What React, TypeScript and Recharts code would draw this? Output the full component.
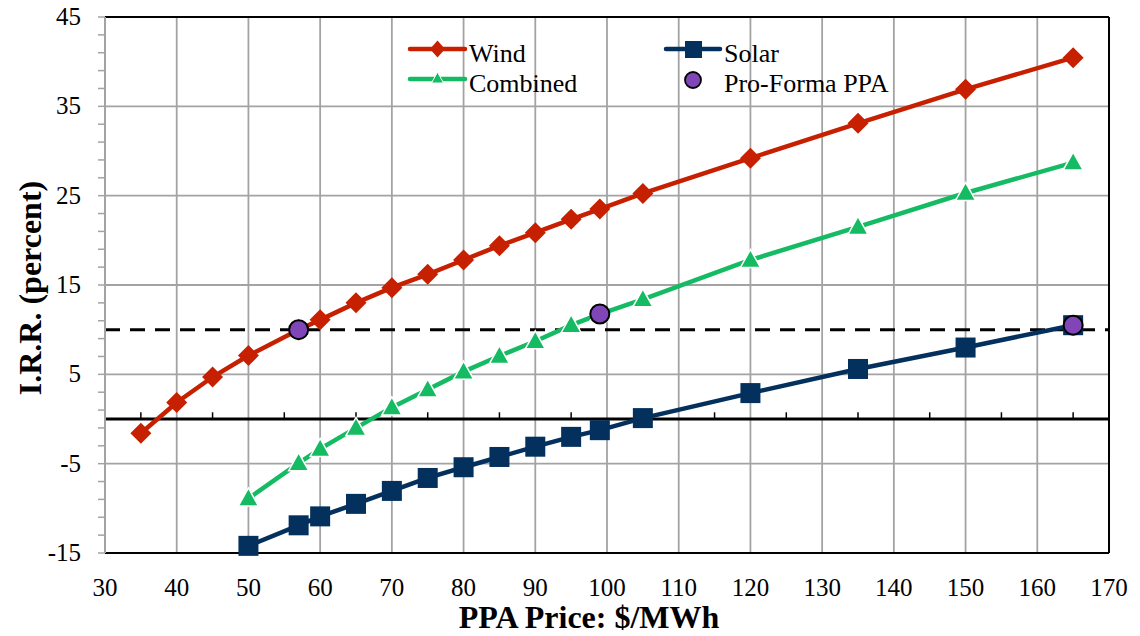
import React from "react";
import {
  ComposedChart,
  Line,
  XAxis,
  YAxis,
  CartesianGrid,
  ReferenceLine,
  Legend,
  Label,
} from "recharts";

const prices = [35, 40, 45, 50, 57, 60, 65, 70, 75, 80, 85, 90, 95, 99, 105, 120, 135, 150, 165];
const wind = [-1.6, 1.85, 4.7, 7.1, 10.0, 11.1, 13.0, 14.7, 16.2, 17.8, 19.4, 20.85, 22.35, 23.5, 25.25, 29.2, 33.1, 36.9, 40.45];
const combined = [null, null, null, -8.9, -4.95, -3.35, -1.0, 1.3, 3.3, 5.3, 7.05, 8.7, 10.5, 11.75, 13.4, 17.8, 21.5, 25.3, 28.7];
const solar = [null, null, null, -14.2, -11.9, -10.9, -9.5, -8.05, -6.6, -5.4, -4.25, -3.1, -2.0, -1.25, 0.1, 2.9, 5.6, 8.0, 10.5];

const proFormaPrices = [57, 99, 165];
const proFormaIrr = [10.0, 11.75, 10.5];

const xTicks = [30, 40, 50, 60, 70, 80, 90, 100, 110, 120, 130, 140, 150, 160, 170];
const xMinorTicks = [35, 45, 55, 65, 75, 85, 95, 105, 115, 125, 135, 145, 155, 165];
const yMajorTicks = [-15, -5, 5, 15, 25, 35, 45];
const yTicks = [-15, -13, -11, -9, -7, -5, -3, -1, 1, 3, 5, 7, 9, 11, 13, 15, 17, 19, 21, 23, 25, 27, 29, 31, 33, 35, 37, 39, 41, 43, 45];
const hurdleRate = 10;

const WIND = "#C72000";
const COMBINED = "#14BB63";
const SOLAR = "#03305C";
const PURPLE = "#8046B8";
const GRID = "#A3A3A3";
const FONT = "'Liberation Serif', 'Times New Roman', serif";

const rows = prices.map((price, i) => ({
  price,
  wind: wind[i],
  combined: combined[i],
  solar: solar[i],
}));

const proForma = proFormaPrices.map((price, i) => ({ price, irr: proFormaIrr[i] }));

const diamondDot = (props: any) => {
  const { cx, cy, index } = props;
  if (cx == null || cy == null) return <g key={`w-${index}`} />;
  const r = 10.5;
  return (
    <polygon
      key={`w-${index}`}
      points={`${cx},${cy - r} ${cx + r},${cy} ${cx},${cy + r} ${cx - r},${cy}`}
      fill={WIND}
    />
  );
};

const triangleDot = (props: any) => {
  const { cx, cy, index } = props;
  if (cx == null || cy == null) return <g key={`c-${index}`} />;
  return (
    <polygon
      key={`c-${index}`}
      points={`${cx},${cy - 10.5} ${cx + 10},${cy + 7.5} ${cx - 10},${cy + 7.5}`}
      fill={COMBINED}
      stroke="#fff"
      strokeWidth={1.5}
    />
  );
};

const squareDot = (props: any) => {
  const { cx, cy, index } = props;
  if (cx == null || cy == null) return <g key={`s-${index}`} />;
  return <rect key={`s-${index}`} x={cx - 10} y={cy - 10} width={20} height={20} fill={SOLAR} />;
};

const circleDot = (props: any) => {
  const { cx, cy, index } = props;
  if (cx == null || cy == null) return <g key={`p-${index}`} />;
  return <circle key={`p-${index}`} cx={cx} cy={cy} r={9.5} fill={PURPLE} stroke="#000" strokeWidth={2} />;
};

const yTick = (props: any) => {
  const { x, y, payload } = props;
  if (!yMajorTicks.includes(payload.value)) return <g />;
  return (
    <text x={x} y={y} dy={8} textAnchor="end" fontSize={25} fontFamily={FONT} fill="#000">
      {payload.value}
    </text>
  );
};

const legendContent = () => (
  <svg width={500} height={72} style={{ display: "block", overflow: "visible" }}>
    <line x1={5} y1={19} x2={60} y2={19} stroke={WIND} strokeWidth={4.5} strokeLinecap="round" />
    <polygon points="32.5,10.5 40,19 32.5,27.5 25,19" fill={WIND} />
    <text x={64} y={32} fontSize={26} fontFamily={FONT}>Wind</text>

    <line x1={5} y1={49} x2={60} y2={49} stroke={COMBINED} strokeWidth={4.5} strokeLinecap="round" />
    <polygon points="32.5,42 38.5,53 26.5,53" fill={COMBINED} stroke="#fff" strokeWidth={1} />
    <text x={64} y={62} fontSize={26} fontFamily={FONT}>Combined</text>

    <line x1={261} y1={19} x2={315} y2={19} stroke={SOLAR} strokeWidth={4.5} strokeLinecap="round" />
    <rect x={280} y={11} width={17} height={17} fill={SOLAR} />
    <text x={319} y={32} fontSize={26} fontFamily={FONT}>Solar</text>

    <circle cx={288} cy={50} r={8} fill={PURPLE} stroke="#000" strokeWidth={1.8} />
    <text x={319} y={62} fontSize={26} fontFamily={FONT}>Pro-Forma PPA</text>
  </svg>
);

export default function App() {
  return (
    <div style={{ position: "absolute", left: 0, top: 0 }}>
      <ComposedChart
        width={1140}
        height={636}
        data={rows}
        margin={{ top: 17, right: 31, bottom: 0, left: 0 }}
      >
        <CartesianGrid
          stroke={GRID}
          strokeWidth={1.8}
          horizontalValues={yMajorTicks}
          verticalValues={xTicks}
        />
        <XAxis
          type="number"
          dataKey="price"
          domain={[30, 170]}
          ticks={xTicks}
          axisLine={false}
          tickLine={false}
          tickSize={0}
          tickMargin={25}
          height={83}
          tick={{ fontSize: 25, fontFamily: FONT, fill: "#000" }}
        >
          <Label
            value="PPA Price: $/MWh"
            position="insideBottom"
            offset={8}
            dx={-18}
            style={{ fontSize: 32, fontWeight: "bold", fontFamily: FONT, fill: "#000" }}
          />
        </XAxis>
        <YAxis
          type="number"
          domain={[-15, 45]}
          ticks={yTicks}
          interval={0}
          width={105}
          axisLine={{ stroke: GRID, strokeWidth: 2 }}
          tickLine={{ stroke: GRID, strokeWidth: 1.5 }}
          tickSize={7}
          tickMargin={17}
          tick={yTick}
        >
          <Label
            value="I.R.R. (percent)"
            angle={-90}
            position="center"
            dx={-23}
            dy={3}
            style={{ fontSize: 32, fontWeight: "bold", fontFamily: FONT, fill: "#000", textAnchor: "middle" }}
          />
        </YAxis>

        <ReferenceLine y={45} stroke="#000" strokeWidth={2} />
        <ReferenceLine y={-15} stroke="#000" strokeWidth={2} />
        <ReferenceLine x={170} stroke="#000" strokeWidth={2} />
        <ReferenceLine y={0} stroke="#000" strokeWidth={3} />
        {xMinorTicks.map((v) => (
          <ReferenceLine
            key={`mt-${v}`}
            segment={[
              { x: v, y: 0 },
              { x: v, y: 0.75 },
            ]}
            stroke="#000"
            strokeWidth={1.5}
          />
        ))}
        <ReferenceLine y={hurdleRate} stroke="#000" strokeWidth={3} strokeDasharray="15 10" />

        <Line
          dataKey="wind"
          stroke={WIND}
          strokeWidth={4.5}
          dot={diamondDot}
          activeDot={false}
          isAnimationActive={false}
        />
        <Line
          dataKey="combined"
          stroke={COMBINED}
          strokeWidth={4.5}
          dot={triangleDot}
          activeDot={false}
          isAnimationActive={false}
        />
        <Line
          dataKey="solar"
          stroke={SOLAR}
          strokeWidth={4.5}
          dot={squareDot}
          activeDot={false}
          isAnimationActive={false}
        />
        {/* pro-forma PPA points: markers only, drawn last so they sit on top */}
        <Line
          data={proForma}
          dataKey="irr"
          stroke="none"
          dot={circleDot}
          activeDot={false}
          isAnimationActive={false}
        />

        <Legend
          layout="vertical"
          align="center"
          verticalAlign="middle"
          wrapperStyle={{ left: 405, top: 30, width: 500, height: 72 }}
          content={legendContent}
        />
      </ComposedChart>
    </div>
  );
}
